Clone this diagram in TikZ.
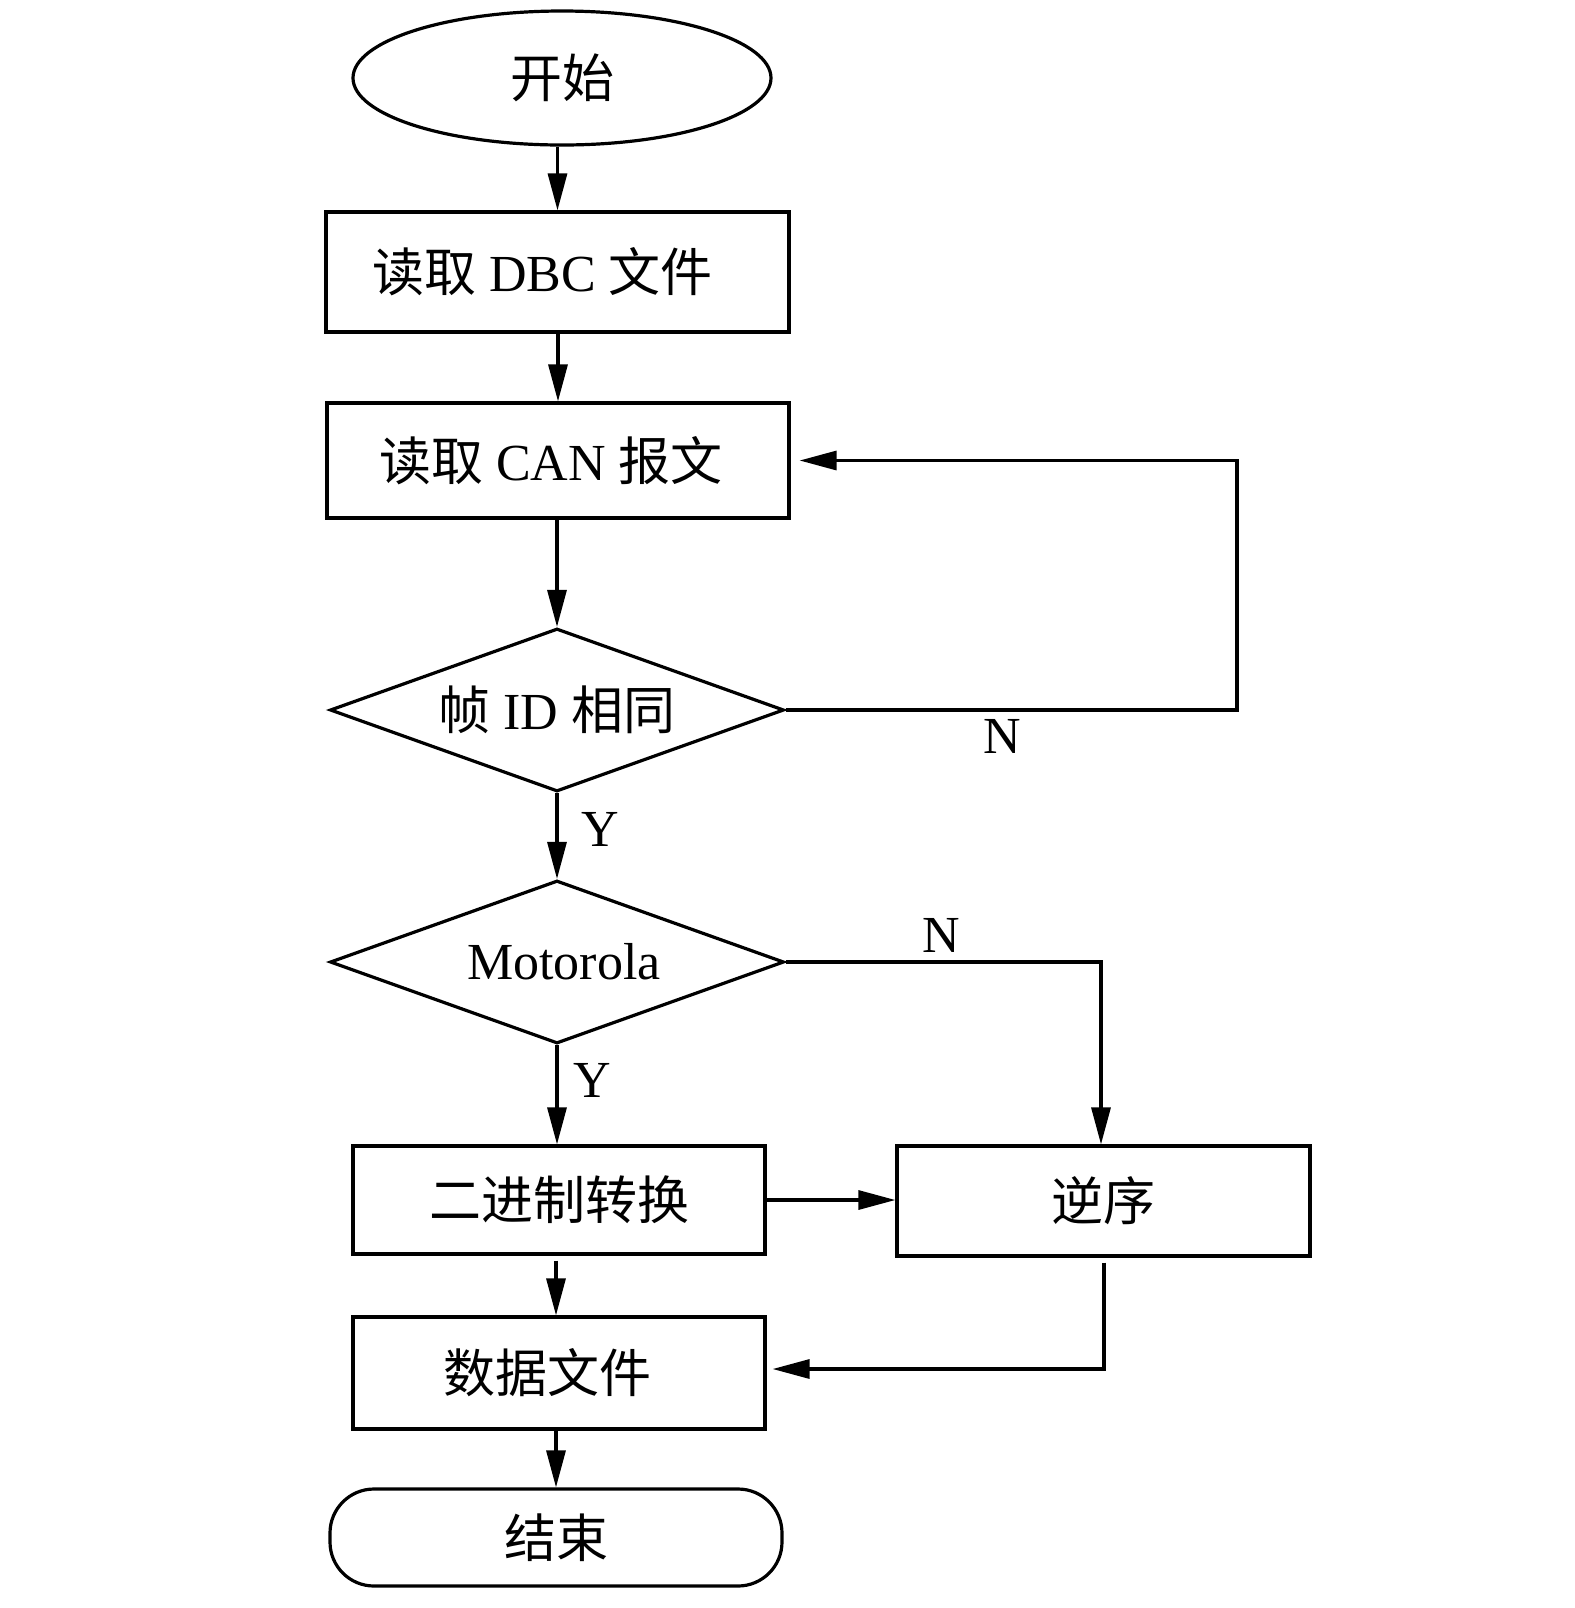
\documentclass[tikz,border=0pt]{standalone}
\usepackage{fontspec}
\setmainfont{Liberation Serif}
\newfontfamily\cjk{Noto Sans CJK SC}
\usetikzlibrary{shapes.geometric,arrows.meta}
\begin{document}
\begin{tikzpicture}[x=0.5pt,y=-0.5pt,
  every node/.style={font=\fontsize{26}{30}\selectfont, inner sep=0pt},
  box/.style={draw, line width=1.6pt, rectangle},
  dia/.style={draw, line width=1.6pt, diamond, aspect=2.78, minimum width=227pt, minimum height=81.5pt},
  lab/.style={font=\fontsize{26}{30}\selectfont},
  arr/.style={line width=1.6pt, -{Triangle[length=18.5pt,width=9.5pt]}},
  ln/.style={line width=1.6pt}]
\useasboundingbox (0,0) rectangle (1575,1608);

\node[draw, line width=1.6pt, ellipse, minimum width=209pt, minimum height=67pt] (start) at (562,78) {\cjk 开始};
\node[box, minimum width=231.5pt, minimum height=60pt] (dbc) at (557.5,272) {\hspace*{-15pt}{\cjk 读取} DBC {\cjk 文件}};
\node[box, minimum width=231pt, minimum height=57.5pt] (can) at (558,460.5) {\hspace*{-7pt}{\cjk 读取} CAN {\cjk 报文}};
\node[dia] (d1) at (557,710) {{\cjk 帧} ID {\cjk 相同}};
\node[dia] (d2) at (557,962) {\hspace*{7pt}Motorola};
\node[box, minimum width=206pt, minimum height=54pt] (bin) at (559,1200) {\cjk 二进制转换};
\node[box, minimum width=206.5pt, minimum height=55pt] (rev) at (1103.5,1201) {\cjk 逆序};
\node[box, minimum width=206pt, minimum height=56pt] (data) at (559,1373) {\cjk\hspace*{-12pt}数据文件};
\node[draw, line width=1.6pt, rectangle, rounded corners=22pt, minimum width=226pt, minimum height=48.5pt] (end) at (556,1537.5) {\cjk 结束};

\coordinate (fbx) at (1237,710);
\coordinate (nx) at (1101,962);
\coordinate (rb) at (1104,1369);

\draw[arr] (start.south -| dbc.north) -- (dbc.north);
\draw[arr] (dbc.south -| can.north) -- (can.north);
\draw[arr] (can.south -| d1.north) -- (d1.north);
\draw[arr, shorten >=4.5pt] (d1.east) -- (fbx) -- (fbx |- can.east) -- (can.east);
\draw[arr] (d1.south) -- (d2.north);
\draw[arr] (d2.east) -- (nx) -- (nx |- rev.north);
\draw[arr] (d2.south) -- (d2.south |- bin.north);
\draw[arr] (bin.east) -- (bin.east -| rev.west);
\draw[arr, shorten <=2.5pt] (bin.south -| end.north) -- (data.north -| end.north);
\draw[arr, shorten <=2.5pt, shorten >=3pt] (rev.south -| rb) -- (rb) -- (rb -| data.east);
\draw[arr] (data.south -| end.north) -- (end.north);

\node[lab] (n1) at (1002,736) {N};
\node[lab] (y1) at (600,829) {Y};
\node[lab] (n2) at (941,935) {N};
\node[lab] (y2) at (592,1080) {Y};
\end{tikzpicture}
\end{document}
